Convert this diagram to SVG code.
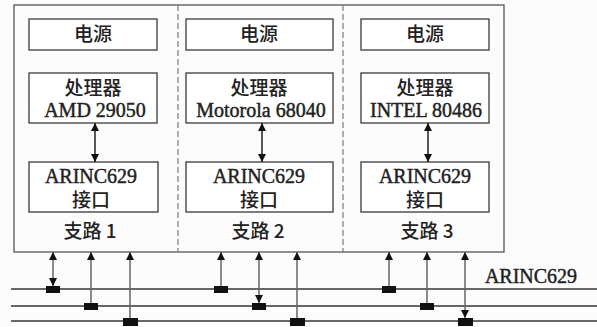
<svg xmlns="http://www.w3.org/2000/svg" width="597" height="327" viewBox="0 0 597 327">
<style>
.bg{fill:#fdfcfc}
.outer{fill:none;stroke:#555;stroke-width:1.3}
.div{fill:none;stroke:#6e7c84;stroke-width:1.2;stroke-dasharray:6,3}
.box{fill:#fff;stroke:#3a3a3a;stroke-width:1.3}
.t{font-family:"Liberation Serif","Noto Sans CJK SC",serif;font-size:20px;fill:#222;stroke:#222;stroke-width:0.45;text-anchor:middle}
.c{font-family:"Noto Sans CJK SC",sans-serif;font-size:19px;font-weight:500;fill:#222;text-anchor:middle}
.c2{font-family:"Liberation Serif","Noto Sans CJK SC",serif;font-size:19px;font-weight:500;fill:#222;text-anchor:middle}
.bus{stroke:#3a3333;stroke-width:1.3;fill:none}
.stub{stroke:#666;stroke-width:1.5;fill:none}
.arr{stroke:#222;stroke-width:1.5;fill:none}
.sq{fill:#111}
</style>
<defs>
<marker id="ah" viewBox="0 0 10 10" refX="10" refY="5" markerUnits="userSpaceOnUse" markerWidth="9" markerHeight="8" orient="auto-start-reverse">
<path d="M0,0 L10,5 L0,10 z" fill="#111"/>
</marker>
</defs>
<rect class="bg" x="0" y="0" width="597" height="327"/>
<g id="frame">
<rect class="outer" x="14" y="5" width="490" height="247"/>
<line class="div" x1="178" y1="5" x2="178" y2="252"/>
<line class="div" x1="343" y1="5" x2="343" y2="252"/>
</g>
<g id="power1"><rect class="box" x="29" y="19" width="128" height="31"/><text class="c" x="93" y="41">电源</text></g>
<g id="cpu1"><rect class="box" x="29" y="73" width="128" height="50"/><text class="c" x="93" y="95">处理器</text><text class="t" x="95" y="117">AMD 29050</text></g>
<g id="arinc1"><rect class="box" x="29" y="162" width="129" height="50"/><text class="t" x="91" y="183">ARINC629</text><text class="c2" x="91" y="207">接口</text></g>
<g id="branch1"><text class="c" x="90" y="238">支路 1</text></g>

<g id="power2"><rect class="box" x="186" y="19" width="147" height="31"/><text class="c" x="259" y="41">电源</text></g>
<g id="cpu2"><rect class="box" x="186" y="73" width="147" height="50"/><text class="c" x="259" y="95">处理器</text><text class="t" x="261" y="117">Motorola 68040</text></g>
<g id="arinc2"><rect class="box" x="186" y="162" width="147" height="50"/><text class="t" x="259" y="183">ARINC629</text><text class="c2" x="259" y="207">接口</text></g>
<g id="branch2"><text class="c" x="258" y="238">支路 2</text></g>

<g id="power3"><rect class="box" x="361" y="19" width="128" height="31"/><text class="c" x="425" y="41">电源</text></g>
<g id="cpu3"><rect class="box" x="361" y="73" width="128" height="50"/><text class="c" x="425" y="95">处理器</text><text class="t" x="426" y="117">INTEL 80486</text></g>
<g id="arinc3"><rect class="box" x="361" y="162" width="128" height="50"/><text class="t" x="425" y="183">ARINC629</text><text class="c2" x="425" y="207">接口</text></g>
<g id="branch3"><text class="c" x="427" y="238">支路 3</text></g>

<g id="bus">
<line class="bus" x1="11" y1="289" x2="597" y2="289"/>
<line class="bus" x1="11" y1="306" x2="597" y2="306"/>
<line class="bus" x1="11" y1="321" x2="597" y2="321"/>
<text class="t" x="531" y="283">ARINC629</text>
</g>

<g id="connectors">
<line class="arr" x1="95" y1="123" x2="95" y2="162" marker-start="url(#ah)" marker-end="url(#ah)"/>
<line class="arr" x1="262" y1="123" x2="262" y2="162" marker-start="url(#ah)" marker-end="url(#ah)"/>
<line class="arr" x1="428" y1="123" x2="428" y2="162" marker-start="url(#ah)" marker-end="url(#ah)"/>

<line class="stub" x1="53" y1="252" x2="53" y2="286" marker-start="url(#ah)" marker-end="url(#ah)"/>
<line class="stub" x1="91" y1="303" x2="91" y2="252" marker-end="url(#ah)"/>
<line class="stub" x1="130" y1="318" x2="130" y2="252" marker-end="url(#ah)"/>
<line class="stub" x1="221" y1="286" x2="221" y2="252" marker-end="url(#ah)"/>
<line class="stub" x1="259" y1="252" x2="259" y2="303" marker-start="url(#ah)" marker-end="url(#ah)"/>
<line class="stub" x1="297" y1="318" x2="297" y2="252" marker-end="url(#ah)"/>
<line class="stub" x1="389" y1="286" x2="389" y2="252" marker-end="url(#ah)"/>
<line class="stub" x1="427" y1="303" x2="427" y2="252" marker-end="url(#ah)"/>
<line class="stub" x1="465" y1="252" x2="465" y2="318" marker-start="url(#ah)" marker-end="url(#ah)"/>

<rect class="sq" x="46" y="286" width="14" height="7"/>
<rect class="sq" x="84" y="303" width="14" height="7"/>
<rect class="sq" x="123" y="318" width="15" height="8"/>
<rect class="sq" x="214" y="286" width="14" height="7"/>
<rect class="sq" x="252" y="303" width="14" height="7"/>
<rect class="sq" x="290" y="318" width="15" height="8"/>
<rect class="sq" x="382" y="286" width="14" height="7"/>
<rect class="sq" x="420" y="303" width="14" height="7"/>
<rect class="sq" x="458" y="318" width="15" height="8"/>
</g>
</svg>
